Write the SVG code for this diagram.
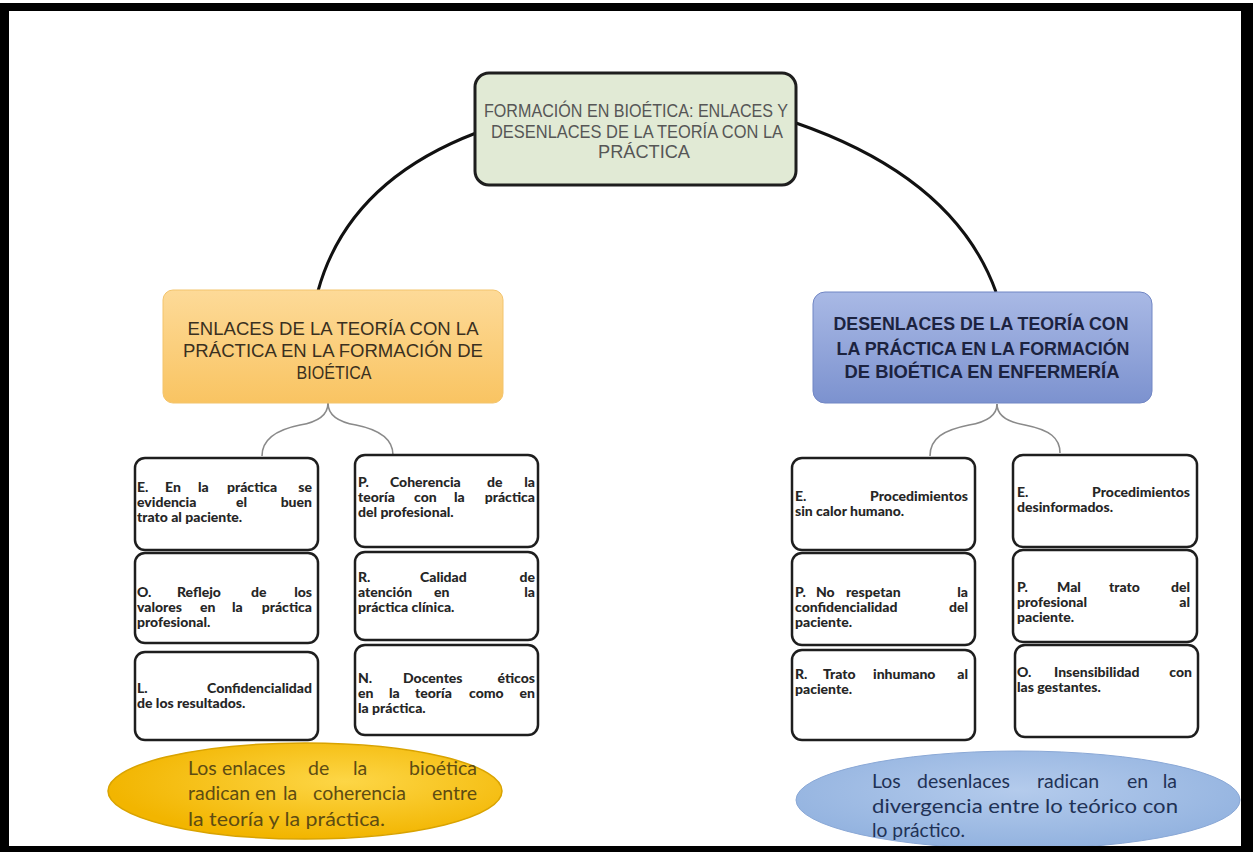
<svg xmlns="http://www.w3.org/2000/svg" width="1253" height="852" viewBox="0 0 1253 852">
<style>
.hd{font-family:"Liberation Sans Narrow","Liberation Sans",Arial,sans-serif;font-size:18px;text-anchor:middle}
.bx{font-family:Lato,"Open Sans",sans-serif;font-weight:900;font-size:14px;fill:#262626}
.e{text-anchor:end}
.wb{fill:#fff;stroke:#1e1e1e;stroke-width:2.5}
.el1{font-family:Lato,"Open Sans",sans-serif;font-size:19.5px;fill:#5e4c12}
.el2{font-family:Lato,"Open Sans",sans-serif;font-size:19.5px;fill:#1f3256}
.arc{fill:none;stroke:#111;stroke-width:3}
.br{fill:none;stroke:#8a8a8a;stroke-width:1.6}
</style>
<defs>
<linearGradient id="gO" x1="0" y1="0" x2="0" y2="1"><stop offset="0" stop-color="#fdda98"/><stop offset="1" stop-color="#f9c462"/></linearGradient>
<linearGradient id="gB" x1="0" y1="0" x2="0" y2="1"><stop offset="0" stop-color="#a9b9e5"/><stop offset="1" stop-color="#7c92cf"/></linearGradient>
<radialGradient id="gY" cx="0.6" cy="0.4" r="0.6"><stop offset="0" stop-color="#fdd646"/><stop offset="1" stop-color="#f2b500"/></radialGradient>
<radialGradient id="gL" cx="0.5" cy="0.4" r="0.6"><stop offset="0" stop-color="#b4cbec"/><stop offset="1" stop-color="#92b2df"/></radialGradient>
</defs>
<rect x="0" y="0" width="1253" height="852" fill="#fff"/>

<g id="connectors">
<path class="arc" d="M 476 133 Q 348 182 318 291"/>
<path class="arc" d="M 796 123 Q 955 178 996 292"/>
<path class="br" d="M 328 403 C 328 415 318 422 300 425 C 275 430 262 440 262 456"/>
<path class="br" d="M 328 403 C 328 415 338 422 356 425 C 381 430 393 440 393 455"/>
<path class="br" d="M 997 404 C 997 415 987 422 969 425 C 944 430 930 438 930 456"/>
<path class="br" d="M 997 404 C 997 415 1007 422 1025 425 C 1050 430 1060 438 1060 453"/>
</g>

<g id="root">
<rect x="475" y="73" width="321" height="112" rx="14" fill="#e1ead5" stroke="#1e1e1e" stroke-width="3"/>
<text class="hd" fill="#565656" x="636" y="117" textLength="304" lengthAdjust="spacingAndGlyphs">FORMACIÓN EN BIOÉTICA: ENLACES Y</text>
<text class="hd" fill="#565656" x="637" y="138" textLength="292" lengthAdjust="spacingAndGlyphs">DESENLACES DE LA TEORÍA CON LA</text>
<text class="hd" fill="#565656" x="644" y="158" textLength="92" lengthAdjust="spacingAndGlyphs">PRÁCTICA</text>
</g>

<g id="enlaces">
<rect x="163" y="290" width="340" height="113" rx="10" fill="url(#gO)" stroke="#f3c46c" stroke-width="1"/>
<text class="hd" fill="#3a3020" x="333" y="335" textLength="291" lengthAdjust="spacingAndGlyphs">ENLACES DE LA TEORÍA CON LA</text>
<text class="hd" fill="#3a3020" x="333" y="357" textLength="300" lengthAdjust="spacingAndGlyphs">PRÁCTICA EN LA FORMACIÓN DE</text>
<text class="hd" fill="#3a3020" x="334" y="379" textLength="75" lengthAdjust="spacingAndGlyphs">BIOÉTICA</text>
</g>

<g id="desenlaces">
<rect x="813" y="292" width="339" height="111" rx="12" fill="url(#gB)" stroke="#7186c4" stroke-width="1"/>
<text class="hd" fill="#1c2340" font-weight="bold" x="981" y="330" textLength="295" lengthAdjust="spacingAndGlyphs">DESENLACES DE LA TEORÍA CON</text>
<text class="hd" fill="#1c2340" font-weight="bold" x="983" y="355" textLength="293" lengthAdjust="spacingAndGlyphs">LA PRÁCTICA EN LA FORMACIÓN</text>
<text class="hd" fill="#1c2340" font-weight="bold" x="982" y="378" textLength="275" lengthAdjust="spacingAndGlyphs">DE BIOÉTICA EN ENFERMERÍA</text>
</g>

<g id="box-E1">
<rect class="wb" x="135" y="458" width="183" height="92" rx="10"/>
<text class="bx"><tspan x="137" y="492">E.</tspan><tspan x="165" y="492">En</tspan><tspan x="198" y="492">la</tspan><tspan x="227" y="492">práctica</tspan><tspan class="e" x="312" y="492">se</tspan><tspan x="137" y="507">evidencia</tspan><tspan x="236" y="507">el</tspan><tspan class="e" x="312" y="507">buen</tspan><tspan x="137" y="522">trato al paciente.</tspan></text>
</g>

<g id="box-O1">
<rect class="wb" x="135" y="553" width="183" height="90" rx="10"/>
<text class="bx"><tspan x="137" y="597">O.</tspan><tspan x="177" y="597">Reflejo</tspan><tspan x="251" y="597">de</tspan><tspan class="e" x="312" y="597">los</tspan><tspan x="137" y="612">valores</tspan><tspan x="200" y="612">en</tspan><tspan x="232" y="612">la</tspan><tspan class="e" x="312" y="612">práctica</tspan><tspan x="137" y="627">profesional.</tspan></text>
</g>

<g id="box-L1">
<rect class="wb" x="135" y="652" width="183" height="88" rx="10"/>
<text class="bx"><tspan x="137" y="693">L.</tspan><tspan class="e" x="312" y="693">Confidencialidad</tspan><tspan x="137" y="708">de los resultados.</tspan></text>
</g>

<g id="box-P1">
<rect class="wb" x="355" y="455" width="183" height="92" rx="10"/>
<text class="bx"><tspan x="358" y="487">P.</tspan><tspan x="390" y="487">Coherencia</tspan><tspan x="487" y="487">de</tspan><tspan class="e" x="535" y="487">la</tspan><tspan x="358" y="502">teoría</tspan><tspan x="414" y="502">con</tspan><tspan x="454" y="502">la</tspan><tspan class="e" x="535" y="502">práctica</tspan><tspan x="358" y="517">del profesional.</tspan></text>
</g>

<g id="box-R1">
<rect class="wb" x="355" y="552" width="183" height="88" rx="10"/>
<text class="bx"><tspan x="358" y="582">R.</tspan><tspan x="420" y="582">Calidad</tspan><tspan class="e" x="535" y="582">de</tspan><tspan x="358" y="597">atención</tspan><tspan x="434" y="597">en</tspan><tspan class="e" x="535" y="597">la</tspan><tspan x="358" y="612">práctica clínica.</tspan></text>
</g>

<g id="box-N1">
<rect class="wb" x="355" y="645" width="183" height="90" rx="10"/>
<text class="bx"><tspan x="358" y="683">N.</tspan><tspan x="403" y="683">Docentes</tspan><tspan class="e" x="535" y="683">éticos</tspan><tspan x="358" y="698">en</tspan><tspan x="389" y="698">la</tspan><tspan x="415" y="698">teoría</tspan><tspan x="469" y="698">como</tspan><tspan class="e" x="535" y="698">en</tspan><tspan x="358" y="713">la práctica.</tspan></text>
</g>

<g id="box-E2">
<rect class="wb" x="792" y="458" width="183" height="92" rx="10"/>
<text class="bx"><tspan x="795" y="501">E.</tspan><tspan class="e" x="968" y="501">Procedimientos</tspan><tspan x="795" y="516">sin calor humano.</tspan></text>
</g>

<g id="box-P2">
<rect class="wb" x="792" y="553" width="183" height="92" rx="10"/>
<text class="bx"><tspan x="795" y="597">P.</tspan><tspan x="816" y="597">No</tspan><tspan x="846" y="597">respetan</tspan><tspan class="e" x="968" y="597">la</tspan><tspan x="795" y="612">confidencialidad</tspan><tspan class="e" x="968" y="612">del</tspan><tspan x="795" y="627">paciente.</tspan></text>
</g>

<g id="box-R2">
<rect class="wb" x="792" y="650" width="183" height="90" rx="10"/>
<text class="bx"><tspan x="795" y="679">R.</tspan><tspan x="823" y="679">Trato</tspan><tspan x="873" y="679">inhumano</tspan><tspan class="e" x="968" y="679">al</tspan><tspan x="795" y="694">paciente.</tspan></text>
</g>

<g id="box-E3">
<rect class="wb" x="1013" y="455" width="184" height="92" rx="10"/>
<text class="bx"><tspan x="1017" y="497">E.</tspan><tspan class="e" x="1190" y="497">Procedimientos</tspan><tspan x="1017" y="512">desinformados.</tspan></text>
</g>

<g id="box-P3">
<rect class="wb" x="1013" y="550" width="184" height="92" rx="10"/>
<text class="bx"><tspan x="1017" y="592">P.</tspan><tspan x="1057" y="592">Mal</tspan><tspan x="1109" y="592">trato</tspan><tspan class="e" x="1190" y="592">del</tspan><tspan x="1017" y="607">profesional</tspan><tspan class="e" x="1190" y="607">al</tspan><tspan x="1017" y="622">paciente.</tspan></text>
</g>

<g id="box-O3">
<rect class="wb" x="1015" y="645" width="183" height="92" rx="10"/>
<text class="bx"><tspan x="1017" y="677">O.</tspan><tspan x="1054" y="677">Insensibilidad</tspan><tspan class="e" x="1192" y="677">con</tspan><tspan x="1017" y="692">las gestantes.</tspan></text>
</g>

<g id="ellipse-enlaces">
<ellipse cx="305" cy="791" rx="197" ry="48" fill="url(#gY)" stroke="#d9a300" stroke-width="1.5"/>
<text class="el1" y="775"><tspan x="188">Los</tspan><tspan x="222">enlaces</tspan><tspan x="308">de</tspan><tspan x="353">la</tspan></text>
<text class="el1 e" x="477" y="775">bioética</text>
<text class="el1" y="800"><tspan x="188">radican</tspan><tspan x="255">en</tspan><tspan x="283">la</tspan><tspan x="313">coherencia</tspan></text>
<text class="el1 e" x="477" y="800">entre</text>
<text class="el1" x="188" y="826" textLength="197" lengthAdjust="spacingAndGlyphs">la teoría y la práctica.</text>
</g>

<g id="ellipse-desenlaces">
<ellipse cx="1018" cy="800" rx="222" ry="49" fill="url(#gL)" stroke="#8aa8d6" stroke-width="1"/>
<text class="el2" y="788"><tspan x="872">Los</tspan><tspan x="917">desenlaces</tspan><tspan x="1037">radican</tspan><tspan x="1127">en</tspan></text>
<text class="el2 e" x="1177" y="788">la</text>
<text class="el2" x="872" y="813" textLength="306" lengthAdjust="spacingAndGlyphs">divergencia entre lo teórico con</text>
<text class="el2" x="872" y="837" textLength="93" lengthAdjust="spacingAndGlyphs">lo práctico.</text>
</g>

<path d="M0 3 H1253 V852 H0 Z M9 11 V846 H1241 V11 Z" fill="#000" fill-rule="evenodd"/>
</svg>
